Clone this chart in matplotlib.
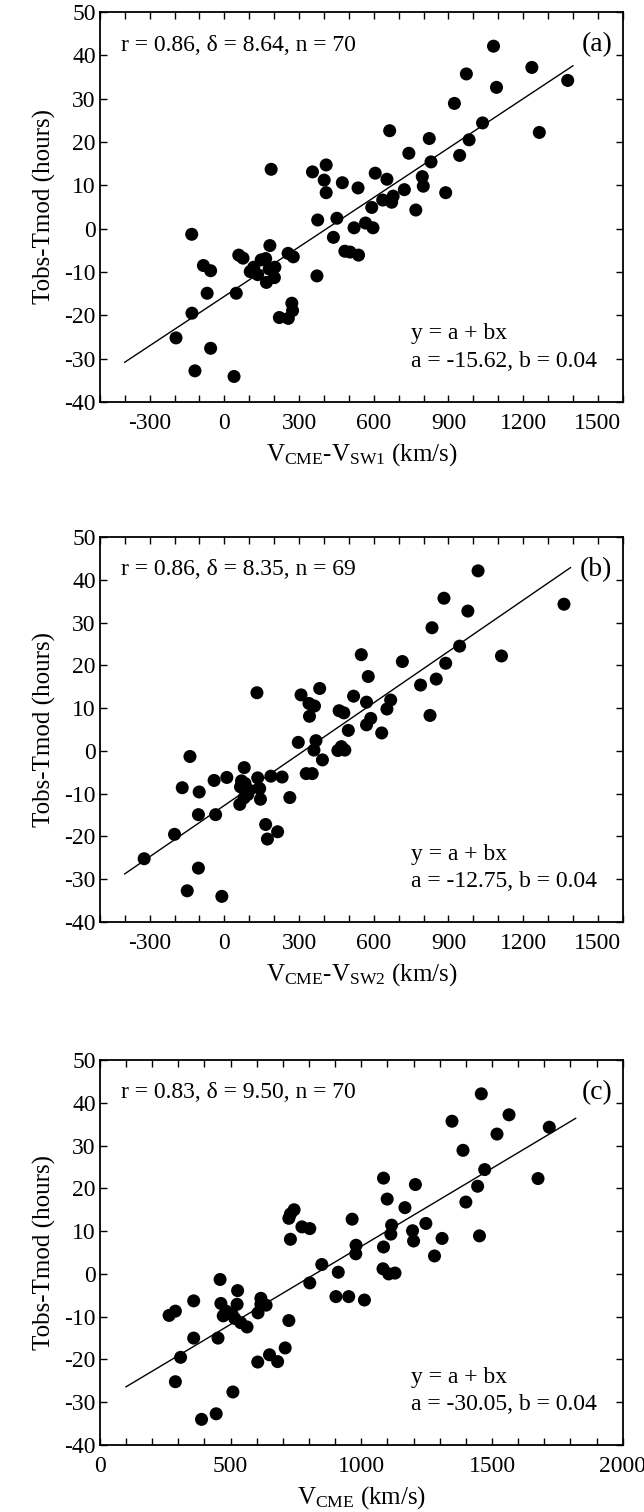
import numpy as np
import matplotlib
matplotlib.use("Agg")
import matplotlib.pyplot as plt
from matplotlib.ticker import MultipleLocator

plt.rcParams['font.family'] = ['Liberation Serif', 'DejaVu Serif']
plt.rcParams['mathtext.fontset'] = 'custom'
plt.rcParams['mathtext.rm'] = 'Liberation Serif'
plt.rcParams['mathtext.it'] = 'Liberation Serif:italic'
plt.rcParams['axes.unicode_minus'] = False

#### data ####
# (a) Vcme - Vsw1
xa = [1081, 1235, 972, 1379, 1093, 924, 1037, 664, 1265, 823, 983, 741, 945, 830, 409,
      188, 354, 606, 401, 653, 795, 474, 537, 799, 723, 409, 889, 678, 636, 672,
      592, 769, 375, 452, 567, 597, 521, 438, -131, 183, 484, 505, 539, 58, 75,
      256, 277, 148, 166, 104, 134, 180, 203, 169, 201, 118, -84, -55, 372, -69,
      48, 271, 274, -130, 221, 257, -194, -55, -118, 39]
ya = [42.1, 37.2, 35.7, 34.2, 32.6, 28.9, 24.4, 22.6, 22.2, 20.8, 20.5, 17.4, 16.9, 15.4, 14.7,
      13.7, 13.1, 12.8, 11.2, 11.4, 12.0, 10.6, 9.4, 9.8, 9.0, 8.3, 8.3, 7.5, 6.6, 6.1,
      4.9, 4.3, 2.0, 2.4, 1.3, 0.2, 0.2, -2.0, -1.3, -3.9, -5.2, -5.4, -6.1, -6.1, -6.8,
      -5.7, -6.5, -7.2, -6.9, -9.9, -10.6, -9.3, -8.9, -12.4, -11.3, -8.9, -8.5, -9.7, -10.9, -14.9,
      -14.9, -17.2, -18.9, -19.5, -20.5, -20.7, -25.2, -27.6, -32.8, -34.1]

# (b) Vcme - Vsw2
xb = [1019, 882, 1364, 978, 834, 945, 550, 1113, 715, 889, 578, 851, 788, 383, 131,
      308, 519, 668, 571, 340, 362, 653, 461, 480, 826, 342, 588, 571, 632, 498,
      297, 368, 360, 470, 456, 484, 394, -138, 80, 329, 353, 10, -41, 134, 187,
      232, 69, 80, 142, -169, -101, 94, 145, 62, 263, -104, -35, 166, 214, 173,
      -200, -322, -104, -149, -10, 65, 100, 79, 83]
yb = [42.1, 35.7, 34.3, 32.7, 28.8, 24.5, 22.5, 22.2, 20.9, 20.5, 17.4, 16.8, 15.4, 14.6, 13.6,
      13.1, 12.8, 11.9, 11.4, 11.1, 10.5, 9.8, 9.4, 8.9, 8.3, 8.1, 7.6, 6.1, 4.2, 4.8,
      2.0, 2.4, 0.2, 1.0, 0.1, 0.2, -2.1, -1.3, -3.9, -5.3, -5.3, -6.2, -6.9, -6.3, -5.9,
      -6.1, -7.0, -8.8, -8.8, -8.6, -9.6, -10.2, -11.3, -12.5, -10.9, -14.9, -14.9, -17.2, -18.9, -20.6,
      -19.5, -25.2, -27.4, -32.7, -34.0, -8.4, -9.2, -11.0, -7.6]

# (c) Vcme
xc = [1459, 1565, 1347, 1719, 1519, 1389, 1472, 1085, 1676, 1207, 1445, 1099, 1400, 1167, 743,
      729, 723, 965, 1247, 1116, 773, 803, 1113, 1196, 729, 1309, 1200, 1452, 980, 979,
      1085, 1280, 849, 1083, 1105, 1129, 912, 803, 460, 527, 903, 952, 1012, 359, 616,
      636, 463, 525, 265, 289, 483, 472, 516, 605, 539, 563, 723, 359, 452, 709,
      649, 680, 604, 309, 289, 509, 445, 389, 505, 616]
yc = [42.1, 37.2, 35.7, 34.3, 32.7, 28.9, 24.4, 22.4, 22.3, 20.9, 20.5, 17.5, 16.8, 15.5, 15.0,
      14.0, 13.0, 12.8, 11.8, 11.4, 11.0, 10.6, 9.3, 10.1, 8.1, 8.3, 7.7, 8.9, 6.7, 4.7,
      6.3, 4.2, 2.2, 1.2, 0.0, 0.2, 0.4, -2.1, -1.3, -3.9, -5.3, -5.3, -6.1, -6.3, -5.7,
      -7.3, -6.9, -7.1, -9.7, -8.7, -8.7, -9.8, -10.4, -9.1, -11.4, -12.4, -10.9, -15.0, -15.0, -17.3,
      -18.9, -20.5, -20.6, -19.5, -25.2, -27.6, -32.7, -34.0, -9.3, -7.1]

# fit lines: intercept, slope, x-range of drawn line
fit_a = (-15.62, 0.038, -400, 1400)
fit_b = (-12.75, 0.040, -400, 1390)
fit_c = (-30.05, 0.0365, 100, 1820)

stats_text = ["r = 0.86, \u03b4 = 8.64, n = 70",
              "r = 0.86, \u03b4 = 8.35, n = 69",
              "r = 0.83, \u03b4 = 9.50, n = 70"]
coef_text = ["a = -15.62, b = 0.04", "a = -12.75, b = 0.04", "a = -30.05, b = 0.04"]
panel_tag = ["(a)", "(b)", "(c)"]
xlabels = [r"$\mathrm{V_{CME}}$-$\mathrm{V_{SW1}}$ (km/s)",
           r"$\mathrm{V_{CME}}$-$\mathrm{V_{SW2}}$ (km/s)",
           r"$\mathrm{V_{CME}}$ (km/s)"]

FS = 17

fig = plt.figure(figsize=(6.44, 15.12), dpi=100)
rects = [[0.155, 0.7341, 0.812, 0.258],
         [0.155, 0.3902, 0.812, 0.2546],
         [0.155, 0.0443, 0.812, 0.2546]]
datasets = [(xa, ya, fit_a), (xb, yb, fit_b), (xc, yc, fit_c)]

for i, (xs, ys, fit) in enumerate(datasets):
    ax = fig.add_axes(rects[i])
    ax.scatter(xs, ys, s=88, color='black', edgecolors='none', zorder=3)
    a, b, x0, x1 = fit
    xl = np.array([x0, x1])
    ax.plot(xl, a + b * xl, color='black', lw=1.0, zorder=2)

    if i < 2:
        ax.set_xlim(-500, 1600)
        ax.set_xticks(np.arange(-300, 1501, 300))
    else:
        ax.set_xlim(0, 2000)
        ax.set_xticks(np.arange(0, 2001, 500))
    ax.xaxis.set_minor_locator(MultipleLocator(100))
    ax.set_ylim(-40, 50)
    ax.set_yticks(np.arange(-40, 51, 10))

    ax.tick_params(which='both', direction='in', top=True, right=True,
                   length=5, width=1.0, labelsize=FS)
    ax.tick_params(axis='x', pad=8)
    ax.tick_params(axis='y', pad=3)
    for sp in ax.spines.values():
        sp.set_linewidth(1.3)

    ax.set_ylabel("Tobs-Tmod (hours)", fontsize=FS + 1, labelpad=6)
    ax.set_xlabel(xlabels[i], fontsize=FS + 1, labelpad=5)

    ax.text(0.04, 0.915, stats_text[i], transform=ax.transAxes, fontsize=FS,
            ha='left', va='center')
    ax.text(0.98, 0.915, panel_tag[i], transform=ax.transAxes, fontsize=FS + 3,
            ha='right', va='center')
    ax.text(0.595, 0.175, "y = a + bx", transform=ax.transAxes, fontsize=FS,
            ha='left', va='center')
    ax.text(0.595, 0.105, coef_text[i], transform=ax.transAxes, fontsize=FS,
            ha='left', va='center')

fig.savefig("out.png", dpi=100)
